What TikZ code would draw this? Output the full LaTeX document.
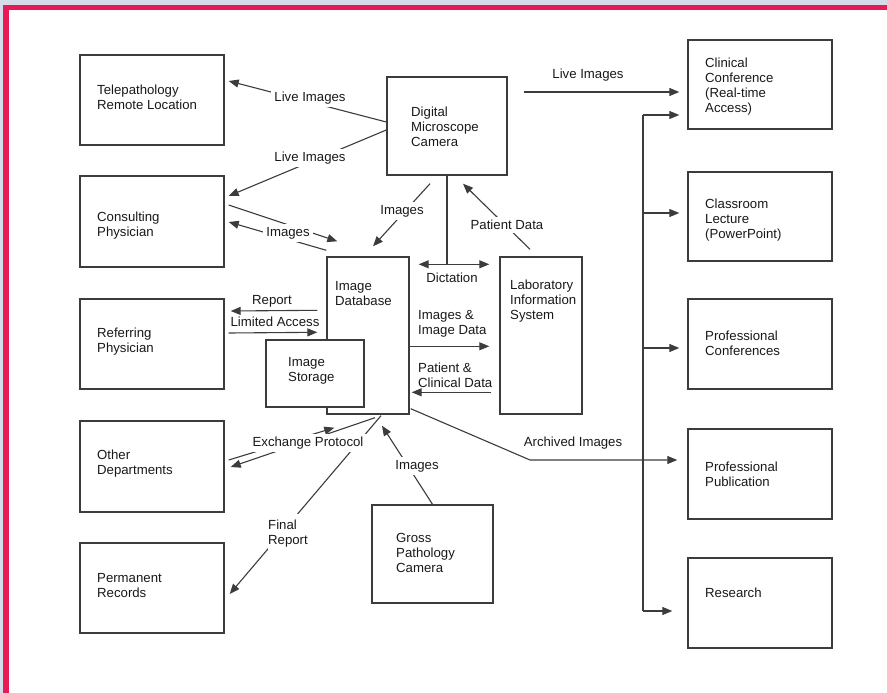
\documentclass[tikz,border=0pt]{standalone}
\usepackage{fontspec}
\setmainfont{Liberation Sans}
\usetikzlibrary{arrows.meta,calc}
\definecolor{frameblue}{RGB}{214,219,234}
\definecolor{framered}{RGB}{232,26,86}
\definecolor{ink}{RGB}{60,60,60}
\tikzset{
  box/.style={draw=ink, line width=1.4pt, fill=white, inner sep=0pt},
  txt/.style={inner sep=0pt, align=left, anchor=west, text=black!90, font=\fontsize{13.2}{15}\selectfont},
  lab/.style={inner sep=3pt, align=left, text=black!90, font=\fontsize{13.2}{15}\selectfont},
  labw/.style={lab, fill=white},
  conn/.style={draw=ink, line width=1.1pt},
  arr/.style={conn, -{Triangle[length=10pt,width=8pt]}},
  darr/.style={conn, {Triangle[length=10pt,width=8pt]}-{Triangle[length=10pt,width=8pt]}}
}
\begin{document}
\begin{tikzpicture}[x=1pt,y=-1pt]
\useasboundingbox (0,0) rectangle (887,693);
\fill[white] (0,0) rectangle (887,693);
\fill[frameblue] (0,0) rectangle (887,5);
\fill[frameblue] (0,0) rectangle (3,693);
\fill[framered] (3,5) rectangle (887,10.5);
\fill[framered] (3,5) rectangle (9,693);

% boxes
\node[box, minimum width=144pt, minimum height=90pt] (tele) at (152,100) {};
\node[box, minimum width=144pt, minimum height=91pt] (cons) at (152,221.5) {};
\node[box, minimum width=144pt, minimum height=90pt] (refer) at (152,344) {};
\node[box, minimum width=144pt, minimum height=91pt] (other) at (152,466.5) {};
\node[box, minimum width=144pt, minimum height=90pt] (perm) at (152,588) {};
\node[box, minimum width=120pt, minimum height=98pt] (dmc) at (447,126) {};
\node[box, minimum width=82pt, minimum height=157pt] (db) at (368,335.5) {};
\node[box, minimum width=98pt, minimum height=67pt] (stor) at (315,373.5) {};
\node[box, minimum width=82pt, minimum height=157pt] (lab) at (541,335.5) {};
\node[box, minimum width=121pt, minimum height=98pt] (gross) at (432.5,554) {};
\node[box, minimum width=144pt, minimum height=89pt] (cc) at (760,84.5) {};
\node[box, minimum width=144pt, minimum height=89pt] (cl) at (760,216.5) {};
\node[box, minimum width=144pt, minimum height=90pt] (pc) at (760,344) {};
\node[box, minimum width=144pt, minimum height=90pt] (pp) at (760,474) {};
\node[box, minimum width=144pt, minimum height=90pt] (res) at (760,603) {};

% box texts
\node[txt] (teleT) at (97,97.5) {Telepathology\\Remote Location};
\node[txt] (consT) at (97,225.5) {Consulting\\Physician};
\node[txt] (referT) at (97,342) {Referring\\Physician};
\node[txt] (otherT) at (97,463.5) {Other\\Departments};
\node[txt] (permT) at (97,585.5) {Permanent\\Records};
\node[txt] (dmcT) at (411,127) {Digital\\Microscope\\Camera};
\node[txt] (dbT) at (335,293.5) {Image\\Database};
\node[txt] (storT) at (288,371) {Image\\Storage};
\node[txt] (labT) at (510,301) {Laboratory\\Information\\System};
\node[txt] (grossT) at (396,553) {Gross\\Pathology\\Camera};
\node[txt] (ccT) at (705,86.5) {Clinical\\Conference\\(Real-time\\Access)};
\node[txt] (clT) at (705,220.5) {Classroom\\Lecture\\(PowerPoint)};
\node[txt] (pcT) at (705,343) {Professional\\Conferences};
\node[txt] (ppT) at (705,474.5) {Professional\\Publication};
\node[txt] (resT) at (705,593) {Research};

% free coordinates
\coordinate (dict) at (447,265);
\coordinate (archbend) at (530,460);
\coordinate (bustop) at (643,115);
\coordinate (busbot) at (643,611);
\coordinate (busa) at (643,213);
\coordinate (busb) at (643,348);

% connectors
\draw[arr] ($(dmc.west)+(0,-4)$) -- ($(tele.east)+(4,-19)$);
\draw[arr] ($(dmc.west)+(0,4)$) -- ($(cons.east)+(4,-25.5)$);
\draw[arr] ($(cons.east)+(4,-16.5)$) -- ($(db.north west)+(11,-15)$);
\draw[arr] ($(db.north west)+(0,-6)$) -- ($(cons.east)+(4,0.5)$);
\draw[arr] ($(dmc.south)+(-17,8)$) -- ($(db.north)+(5,-10)$);
\draw[conn] (dmc.south) -- (dict);
\draw[darr] ($(db.north east)+(9,8)$) -- ($(lab.north west)+(-10,8)$);
\draw[arr] ($(lab.north)+(-11,-7)$) -- ($(dmc.south)+(16,8)$);
\draw[arr] ($(db.north west)+(-9,54)$) -- ($(refer.east)+(6,-33)$);
\draw[arr] ($(refer.east)+(4,-11)$) -- ($(db.north west)+(-9,76)$);
\draw[arr] ($(db.north east)+(0,90)$) -- ($(lab.north west)+(-10,90)$);
\draw[arr] ($(lab.north west)+(-8,136)$) -- ($(db.north east)+(2,136)$);
\draw[arr] ($(other.east)+(4,-6.5)$) -- ($(db.south west)+(8,13)$);
\draw[arr] ($(db.south)+(7,3)$) -- ($(other.east)+(6,0.5)$);
\draw[arr] ($(db.south)+(13,1)$) -- ($(perm.east)+(5,6)$);
\draw[arr] (gross.north) -- ($(db.south)+(14,11)$);
\draw[arr] ($(db.south east)+(1,-6)$) -- (archbend) -- ($(pp.west)+(-10,-14)$);
\draw[arr] ($(dmc.east)+(16,-34)$) -- ($(cc.west)+(-8,7.5)$);
\draw[conn] (bustop) -- (busbot);
\draw[arr] (bustop) -- ($(cc.west)+(-8,30.5)$);
\draw[arr] (busa) -- ($(cl.west)+(-8,-3.5)$);
\draw[arr] (busb) -- ($(pc.west)+(-8,4)$);
\draw[arr] (busbot) -- ($(res.west)+(-15,8)$);

% connector labels
\node[labw] (l1) at (310,98) {Live Images};
\node[labw] (l2) at (310,158) {Live Images};
\node[labw] (l3) at (288,233) {Images};
\node[labw] (l4) at (402,211) {Images};
\node[labw] (l5) at (507,225) {Patient Data};
\node[lab] (l6) at (452,278) {Dictation};
\node[lab] (l7) at (272,301) {Report};
\node[lab] (l8) at (275,322) {Limited Access};
\node[lab, anchor=west, inner sep=0pt] (l9) at (418,323.5) {Images \&\\Image Data};
\node[lab, anchor=west, inner sep=0pt] (l10) at (418,375.5) {Patient \&\\Clinical Data};
\node[labw] (l11) at (308,443) {Exchange Protocol};
\node[labw, anchor=west, inner xsep=0pt, inner ysep=6pt] (l12) at (268,533.5) {Final\\Report};
\node[labw] (l13) at (417,466) {Images};
\node[lab] (l14) at (573,443) {Archived Images};
\node[lab] (l15) at (588,75) {Live Images};
\end{tikzpicture}
\end{document}
